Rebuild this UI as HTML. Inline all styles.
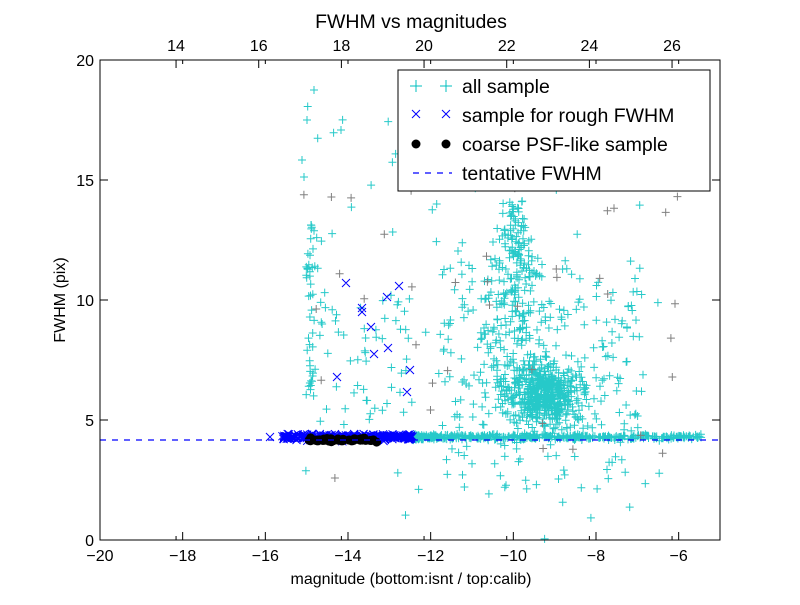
<!DOCTYPE html>
<html><head><meta charset="utf-8"><style>
body{margin:0;background:#fff}
text{font-family:"Liberation Sans","DejaVu Sans",sans-serif}
</style></head><body>
<svg id="s" width="800" height="600" xmlns="http://www.w3.org/2000/svg">
<rect width="800" height="600" fill="#fff"/>
<g id="pts"></g>
<line x1="100" y1="440" x2="720" y2="440" stroke="#0000ff" stroke-width="1.3" stroke-dasharray="6,6"/>
<rect x="100" y="60" width="620" height="480" fill="none" stroke="#000" stroke-width="1"/>
<g id="ticks" stroke="#000" stroke-width="1"></g>
<g id="labels" font-size="16" fill="#000"></g>
<text x="411" y="28" font-size="19.5" text-anchor="middle">FWHM vs magnitudes</text>
<text x="411" y="584" font-size="16" text-anchor="middle">magnitude (bottom:isnt / top:calib)</text>
<text transform="translate(65,300) rotate(-90)" font-size="16" text-anchor="middle">FWHM (pix)</text>
<rect x="398" y="70" width="312" height="121" fill="#fff" stroke="#000" stroke-width="1"/>
<g stroke="#00bfbf" stroke-width="1"><path d="M416,80v12M410,86h12M446,80v12M440,86h12"/></g>
<g stroke="#0000ff" stroke-width="1"><path d="M412,110l8,8M412,118l8,-8M442,110l8,8M442,118l8,-8"/></g>
<circle cx="416" cy="144" r="4.5" fill="#000"/><circle cx="446" cy="144" r="4.5" fill="#000"/>
<line x1="410" y1="173" x2="452" y2="173" stroke="#0000ff" stroke-width="1.3" stroke-dasharray="6,6" stroke-dashoffset="-3"/>
<g font-size="19.5"><text x="462" y="93">all sample</text><text x="462" y="122">sample for rough FWHM</text><text x="462" y="151">coarse PSF-like sample</text><text x="462" y="180">tentative FWHM</text></g>
</svg>
<script>
var seed=12345;function r(){seed=(seed*16807)%2147483647;return (seed-1)/2147483646;}
function g(){var u=0;for(var i=0;i<6;i++)u+=r();return (u-3)/1.0;}
var c="",b="",k="",gr="";
function plus(x,y){return "M"+x.toFixed(1)+","+(y-4).toFixed(1)+"v8M"+(x-4).toFixed(1)+","+y.toFixed(1)+"h8";}
function cr(x,y){return "M"+(x-4).toFixed(1)+","+(y-4).toFixed(1)+"l8,8M"+(x-4).toFixed(1)+","+(y+4).toFixed(1)+"l8,-8";}
var i,x,y;
for(i=0;i<450;i++){x=413+Math.pow(r(),1.6)*290;y=437+g()*1.8;c+=plus(x,y);}
for(i=0;i<500;i++){x=545+g()*26;y=395+g()*22;if(y>470)y=470-r()*20;c+=plus(x,y);}
for(i=0;i<220;i++){var t=r();y=200+t*200;x=515+g()*(8+t*22);c+=plus(x,y);}
for(i=0;i<230;i++){x=440+r()*200;y=260+r()*180;c+=plus(x,y);}
for(i=0;i<40;i++){x=440+r()*220;y=440+r()*50;c+=plus(x,y);}
for(i=0;i<90;i++){x=300+r()*360;y=90+r()*340;c+=plus(x,y);}
for(i=0;i<12;i++){x=300+r()*360;y=445+r()*95;c+=plus(x,y);}
for(i=0;i<45;i++){x=310+g()*4;y=220+r()*180;c+=plus(x,y);}
c+=plus(314,90)+plus(307,120)+plus(302,160)+plus(304,177)+plus(341,130);
for(i=0;i<40;i++){x=320+r()*90;y=280+r()*140;c+=plus(x,y);}
for(i=0;i<40;i++){x=300+r()*380;y=150+r()*340;gr+=plus(x,y);}
for(i=0;i<300;i++){x=282+r()*131;y=437+g()*1.8;b+=cr(x,y);}
var bx=[[346,283],[362,308],[371,327],[387,297],[399,286],[374,354],[388,348],[337,377],[407,392],[410,370],[362,312],[270,437],[292,437]];
bx.forEach(function(p){b+=cr(p[0],p[1]);});
for(i=0;i<40;i++){x=304+r()*74;y=440+g()*1.2;k+='<circle cx="'+x.toFixed(1)+'" cy="'+y.toFixed(1)+'" r="4.5"/>';}
document.getElementById("pts").innerHTML='<path d="'+c+'" stroke="#00bfbf" stroke-width="1" fill="none" opacity="0.85"/>'+
'<path d="'+gr+'" stroke="#808080" stroke-width="1" fill="none"/>'+
'<path d="'+b+'" stroke="#0000ff" stroke-width="1" fill="none"/>'+
'<g fill="#000">'+k+'</g>';
var tk="",lb="";
for(var v=-20;v<=-6;v+=2){x=100+(v+20)*41.333;tk+='<line x1="'+x+'" y1="540" x2="'+x+'" y2="532"/><line x1="'+x+'" y1="60" x2="'+x+'" y2="64"/>';
lb+='<text x="'+x+'" y="561" text-anchor="middle">\u2212'+(-v)+'</text>';}
for(v=14;v<=26;v+=2){x=100+(v-32.16+20)*41.333;tk+='<line x1="'+x+'" y1="60" x2="'+x+'" y2="68"/><line x1="'+x+'" y1="540" x2="'+x+'" y2="536"/>';
lb+='<text x="'+x+'" y="51" text-anchor="middle">'+v+'</text>';}
for(v=0;v<=20;v+=5){y=540-v*24;tk+='<line x1="100" y1="'+y+'" x2="108" y2="'+y+'"/><line x1="720" y1="'+y+'" x2="712" y2="'+y+'"/>';
lb+='<text x="94" y="'+(y+6)+'" text-anchor="end">'+v+'</text>';}
document.getElementById("ticks").innerHTML=tk;document.getElementById("labels").innerHTML=lb;
</script>
</body></html>
